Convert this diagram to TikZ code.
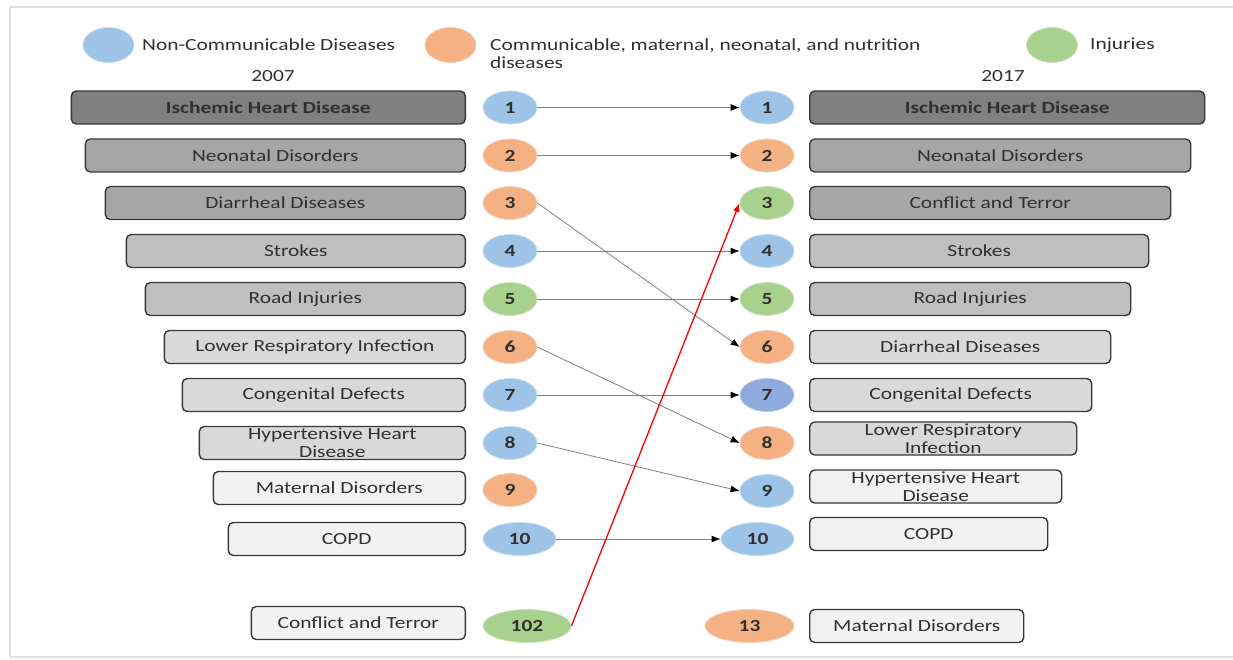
\documentclass[tikz,border=0pt]{standalone}
\usepackage{fontspec}
\setmainfont{Carlito}[FakeStretch=1.26]
\usetikzlibrary{arrows.meta, shapes.geometric, positioning}

\definecolor{ncdblue}{HTML}{9DC3E6}
\definecolor{ncddark}{HTML}{8FAADC}
\definecolor{cmnorange}{HTML}{F4B183}
\definecolor{injgreen}{HTML}{A9D18E}
\definecolor{inktext}{HTML}{303030}

\begin{document}
\begin{tikzpicture}[x=1pt, y=-1pt, font=\fontsize{17}{18}\selectfont,
    box/.style={draw=black!78, line width=1.4pt, rounded corners=5pt, minimum height=33pt,
        inner sep=0pt, align=center, text=inktext},
    lvA/.style={box, fill=black!50},
    lvB/.style={box, fill=black!35},
    lvC/.style={box, fill=black!25},
    lvD/.style={box, fill=black!15},
    lvE/.style={box, fill=black!5},
    rank/.style={ellipse, minimum width=54pt, minimum height=33pt, inner sep=0pt,
        line width=0.8pt, text=inktext, font=\fontsize{17}{18}\selectfont\bfseries},
    ncd/.style={rank, fill=ncdblue, draw=ncdblue!60!white},
    cmn/.style={rank, fill=cmnorange, draw=cmnorange!60!white},
    inj/.style={rank, fill=injgreen, draw=injgreen!60!white},
    link/.style={draw=black!50, line width=0.8pt, -{Latex[length=9pt, width=7pt, color=black]}},
    jump/.style={draw=red, line width=1.3pt, -{Latex[length=9pt, width=7pt]}}]

    \useasboundingbox (0,0) rectangle (1233,659);
    % Frame
    \draw[black!12, line width=1.5pt] (10,7) rectangle (1245,657);

    % Legend
    \node[ncd, minimum width=51pt, minimum height=35pt] (keyNCD) at (108.5,45) {};
    \node[anchor=west, inner sep=0pt, text=inktext] (txtNCD) at (142,45) {Non-Communicable Diseases};
    \node[cmn, minimum width=51pt, minimum height=35pt] (keyCMN) at (450.5,45) {};
    \node[anchor=north west, inner sep=0pt, align=left, text=inktext] (txtCMN) at (490,38)
        {Communicable, maternal, neonatal, and nutrition\\diseases};
    \node[inj, minimum width=51pt, minimum height=35pt] (keyINJ) at (1052,45) {};
    \node[anchor=west, inner sep=0pt, text=inktext] (txtINJ) at (1090,45) {Injuries};

    % Years
    \node[text=inktext] (y2007) at (273,76) {2007};
    \node[text=inktext] (y2017) at (1003,76) {2017};

    % 2007 causes
    \node[lvA, anchor=east, minimum width=394pt] (bl1) at (466,107.5) {\textbf{Ischemic Heart Disease}};
    \node[lvB, anchor=east, minimum width=380pt] (bl2) at (466,155.5) {Neonatal Disorders};
    \node[lvB, anchor=east, minimum width=360pt] (bl3) at (466,203) {Diarrheal Diseases};
    \node[lvC, anchor=east, minimum width=339pt] (bl4) at (466,251) {Strokes};
    \node[lvC, anchor=east, minimum width=320pt] (bl5) at (466,299) {Road Injuries};
    \node[lvD, anchor=east, minimum width=301pt] (bl6) at (466,347) {Lower Respiratory Infection};
    \node[lvD, anchor=east, minimum width=283pt] (bl7) at (466,395) {Congenital Defects};
    \node[lvD, anchor=east, minimum width=266pt] (bl8) at (466,443) {Hypertensive Heart\\Disease};
    \node[lvE, anchor=east, minimum width=252pt] (bl9) at (466,488) {Maternal Disorders};
    \node[lvE, anchor=east, minimum width=237pt] (bl10) at (466,539) {COPD};
    \node[lvE, anchor=east, minimum width=214pt] (bl102) at (466,623) {Conflict and Terror};

    % 2007 ranks
    \node[ncd] (l1) at (510,107.5) {1};
    \node[cmn] (l2) at (510,155.5) {2};
    \node[cmn] (l3) at (510,203) {3};
    \node[ncd] (l4) at (510,251) {4};
    \node[inj] (l5) at (510,299) {5};
    \node[cmn] (l6) at (510,347) {6};
    \node[ncd] (l7) at (510,395) {7};
    \node[ncd] (l8) at (510,443) {8};
    \node[cmn] (l9) at (510,490) {9};
    \node[ncd, minimum width=73pt] (l10) at (519.5,539) {10};
    \node[inj, minimum width=88pt] (l102) at (527,626) {102};

    % 2017 ranks
    \node[ncd] (r1) at (767,107.5) {1};
    \node[cmn] (r2) at (767,155.5) {2};
    \node[inj] (r3) at (767,203) {3};
    \node[ncd] (r4) at (767,251) {4};
    \node[inj] (r5) at (767,299) {5};
    \node[cmn] (r6) at (767,347) {6};
    \node[rank, fill=ncddark, draw=ncddark!60!white] (r7) at (767,395) {7};
    \node[cmn] (r8) at (767,443) {8};
    \node[ncd] (r9) at (767,491) {9};
    \node[ncd, minimum width=73pt] (r10) at (757.5,539) {10};
    \node[cmn, minimum width=89pt] (r13) at (749.5,626) {13};

    % 2017 causes
    \node[lvA, anchor=west, minimum width=395pt] (br1) at (809,107.5) {\textbf{Ischemic Heart Disease}};
    \node[lvB, anchor=west, minimum width=381pt] (br2) at (809,155.5) {Neonatal Disorders};
    \node[lvB, anchor=west, minimum width=361pt] (br3) at (809,203) {Conflict and Terror};
    \node[lvC, anchor=west, minimum width=339pt] (br4) at (809,251) {Strokes};
    \node[lvC, anchor=west, minimum width=321pt] (br5) at (809,299) {Road Injuries};
    \node[lvD, anchor=west, minimum width=301pt] (br6) at (809,347) {Diarrheal Diseases};
    \node[lvD, anchor=west, minimum width=282pt] (br7) at (809,395) {Congenital Defects};
    \node[lvD, anchor=west, minimum width=267pt] (br8) at (809,438.5) {Lower Respiratory\\Infection};
    \node[lvE, anchor=west, minimum width=252pt] (br9) at (809,486.5) {Hypertensive Heart\\Disease};
    \node[lvE, anchor=west, minimum width=238pt] (br10) at (809,534) {COPD};
    \node[lvE, anchor=west, minimum width=214pt] (br13) at (809,626) {Maternal Disorders};

    % Rank changes
    \draw[link] (l1) -- (r1);
    \draw[link] (l2) -- (r2);
    \draw[link] (l3.east) -- (r6.west);
    \draw[link] (l4) -- (r4);
    \draw[link] (l5) -- (r5);
    \draw[link] (l6.east) -- (r8.west);
    \draw[link] (l7) -- (r7);
    \draw[link] (l8.east) -- (r9.west);
    \draw[link] (l10) -- (r10);
    \draw[jump] (l102.east) -- (r3.west);
\end{tikzpicture}
\end{document}
